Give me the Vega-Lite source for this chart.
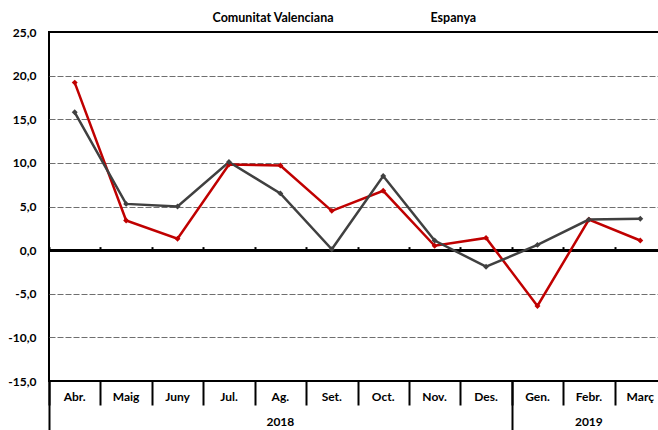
{
  "$schema": "https://vega.github.io/schema/vega-lite/v6.json",
  "autosize": {"type": "none"},
  "padding": {"left": 49, "top": 32, "right": 0, "bottom": 49},
  "width": 617,
  "height": 349,
  "background": "white",
  "config": {
    "font": "Lato",
    "view": {"stroke": "black", "strokeWidth": 2},
    "axis": {"labelFont": "Lato", "labelFontWeight": "bold", "labelFontSize": 12, "labelColor": "black", "domain": false, "grid": false, "title": null},
    "legend": {"labelFont": "Lato", "labelFontWeight": "bold", "labelFontSize": 12.5, "labelColor": "black"}
  },
  "data": {
    "values": [
      {"m": "Abr.", "s": "Comunitat Valenciana", "v": 19.2},
      {"m": "Maig", "s": "Comunitat Valenciana", "v": 3.4},
      {"m": "Juny", "s": "Comunitat Valenciana", "v": 1.3},
      {"m": "Jul.", "s": "Comunitat Valenciana", "v": 9.8},
      {"m": "Ag.", "s": "Comunitat Valenciana", "v": 9.7},
      {"m": "Set.", "s": "Comunitat Valenciana", "v": 4.5},
      {"m": "Oct.", "s": "Comunitat Valenciana", "v": 6.8},
      {"m": "Nov.", "s": "Comunitat Valenciana", "v": 0.5},
      {"m": "Des.", "s": "Comunitat Valenciana", "v": 1.4},
      {"m": "Gen.", "s": "Comunitat Valenciana", "v": -6.4},
      {"m": "Febr.", "s": "Comunitat Valenciana", "v": 3.5},
      {"m": "Març", "s": "Comunitat Valenciana", "v": 1.1},
      {"m": "Abr.", "s": "Espanya", "v": 15.8},
      {"m": "Maig", "s": "Espanya", "v": 5.3},
      {"m": "Juny", "s": "Espanya", "v": 5.0},
      {"m": "Jul.", "s": "Espanya", "v": 10.1},
      {"m": "Ag.", "s": "Espanya", "v": 6.5},
      {"m": "Set.", "s": "Espanya", "v": 0.1},
      {"m": "Oct.", "s": "Espanya", "v": 8.5},
      {"m": "Nov.", "s": "Espanya", "v": 1.1},
      {"m": "Des.", "s": "Espanya", "v": -1.9},
      {"m": "Gen.", "s": "Espanya", "v": 0.6},
      {"m": "Febr.", "s": "Espanya", "v": 3.5},
      {"m": "Març", "s": "Espanya", "v": 3.6}
    ]
  },
  "resolve": {"axis": {"x": "independent"}},
  "layer": [
    {
      "mark": {"type": "rule", "color": "black", "strokeWidth": 2},
      "encoding": {"y": {"datum": 0, "type": "quantitative",
          "scale": {"domain": [-15, 25], "nice": false, "zero": false},
          "axis": {"values": [-15, -10, -5, 0, 5, 10, 15, 20, 25], "labelExpr": "(datum.value < 0 ? '-' : '') + replace(format(abs(datum.value), '.1f'), '.', ',')", "ticks": false, "labelPadding": 13, "grid": true, "gridColor": {"condition": {"test": "datum.value == -15 || datum.value == 25 || datum.value == 0", "value": "transparent"}, "value": "#6f6f6f"}, "gridDash": [6, 2], "gridWidth": 1}}}
    },
    {
      "mark": {"type": "point", "opacity": 0},
      "encoding": {
        "x": {"field": "m", "type": "nominal", "scale": {"domain": ["Abr.", "Maig", "Juny", "Jul.", "Ag.", "Set.", "Oct.", "Nov.", "Des.", "Gen.", "Febr.", "Març"], "paddingInner": 0, "paddingOuter": 0},
          "axis": {"orient": "bottom", "labels": false, "ticks": true, "tickBand": "extent", "tickSize": 24, "tickColor": "black", "tickWidth": 2}},
        "y": {"field": "v", "type": "quantitative"}
      }
    },
    {
      "mark": {"type": "point", "opacity": 0},
      "encoding": {
        "x": {"field": "m", "type": "nominal",
          "axis": {"orient": "bottom", "labels": false, "ticks": true, "values": ["Abr.", "Gen."], "tickBand": "center", "tickOffset": -25.7, "tickSize": 50, "tickColor": "black", "tickWidth": 2}},
        "y": {"field": "v", "type": "quantitative"}
      }
    },
    {
      "mark": {"type": "point", "opacity": 0},
      "encoding": {
        "x": {"field": "m", "type": "nominal",
          "axis": {"orient": "bottom", "labels": true, "ticks": false, "values": ["Ag.", "Febr."], "labelExpr": "datum.value == 'Ag.' ? '2018' : '2019'", "labelPadding": 35, "labelAngle": 0}},
        "y": {"field": "v", "type": "quantitative"}
      }
    },
    {
      "mark": {"type": "point", "opacity": 0},
      "encoding": {
        "x": {"field": "m", "type": "nominal",
          "axis": {"orient": "top", "offset": -218.6, "labels": false, "ticks": true, "tickBand": "extent", "tickSize": 4, "tickColor": "black", "tickWidth": 2}},
        "y": {"field": "v", "type": "quantitative"}
      }
    },
    {
      "mark": {"type": "line", "strokeWidth": 2.5, "point": {"shape": "diamond", "size": 35, "filled": true, "opacity": 1}},
      "encoding": {
        "x": {"field": "m", "type": "nominal",
          "axis": {"orient": "bottom", "labels": true, "ticks": false, "labelPadding": 10, "labelAngle": 0}},
        "y": {"field": "v", "type": "quantitative"},
        "color": {"field": "s", "type": "nominal",
          "scale": {"domain": ["Comunitat Valenciana", "Espanya"], "range": ["#C00000", "#404040"]},
          "legend": {"title": null, "orient": "none", "legendX": 151, "legendY": -20, "direction": "horizontal", "symbolOpacity": 0, "symbolSize": 1, "symbolStrokeWidth": 0, "labelOffset": 0, "columnPadding": 84}}
      }
    }
  ]
}
